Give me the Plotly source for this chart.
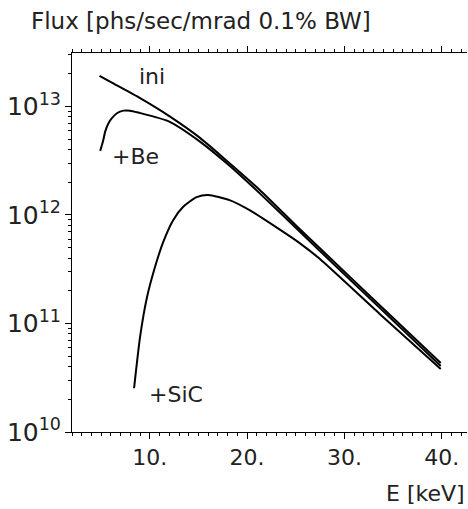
import plotly.graph_objects as go

# Energy [keV] and flux [phs/sec/mrad 0.1% BW]
E_ini = [4.83, 6.0, 9.0, 12.0, 15.15, 17.9, 21.3, 25.4, 27.4, 33.6, 39.9]
F_ini = [1.91e13, 1.67e13, 1.19e13, 8.13e12, 5.13e12, 3.16e12, 1.70e12, 7.41e11, 5.01e11, 1.48e11, 4.33e10]

E_be = [4.9, 5.18, 5.41, 5.75, 6.1, 6.61, 7.29, 7.97, 8.82, 12.0, 15.15, 17.9, 21.3, 27.4, 33.6, 39.9]
F_be = [3.89e12, 4.74e12, 5.86e12, 7.0e12, 7.78e12, 8.65e12, 9.14e12, 9.14e12, 8.77e12,
        7.24e12, 4.74e12, 2.99e12, 1.58e12, 4.73e11, 1.40e11, 4.06e10]

E_sic = [8.38, 9.0, 9.68, 10.53, 11.39, 12.41, 13.43, 14.81, 16.0, 18.2, 20.3, 25.4, 27.4, 33.6, 39.9]
F_sic = [2.53e10, 7.55e10, 1.70e11, 3.31e11, 5.68e11, 9.0e11, 1.19e12, 1.46e12, 1.53e12, 1.37e12,
         1.10e12, 5.5e11, 3.98e11, 1.23e11, 3.8e10]

X_RANGE = [2, 42.6]
Y_RANGE = [10, 13.492]

FONT = "DejaVu Sans, sans-serif"
AX = "black"
TXT = "#222222"

fig = go.Figure()
for xs, ys in [(E_ini, F_ini), (E_be, F_be), (E_sic, F_sic)]:
    fig.add_trace(go.Scatter(x=xs, y=ys, mode="lines",
                             line=dict(color="black", width=2, shape="spline", smoothing=0.6),
                             showlegend=False, hoverinfo="skip"))

fig.update_layout(
    width=468, height=509,
    margin=dict(l=72, r=1, t=53, b=77, autoexpand=False),
    plot_bgcolor="white",
    showlegend=False,
)
fig.update_xaxes(
    automargin=False,
    range=X_RANGE, ticks="outside", ticklen=6, tickwidth=1, tickcolor=AX,
    showline=True, linecolor=AX, mirror="ticks", showgrid=False, zeroline=False,
    tickmode="linear", tick0=0, dtick=10, ticksuffix=".",
    tickfont=dict(family=FONT, size=22, color=TXT),
    minor=dict(ticks="outside", ticklen=3, tickwidth=1, tickcolor=AX, dtick=1),
)
fig.update_yaxes(
    automargin=False,
    type="log", range=Y_RANGE, ticks="outside", ticklen=6, tickwidth=1, tickcolor=AX,
    showline=True, linecolor=AX, showgrid=False, zeroline=False,
    dtick=1, exponentformat="power",
    tickfont=dict(family=FONT, size=20, color=TXT),
    minor=dict(ticks="outside", ticklen=3, tickwidth=1, tickcolor=AX, dtick="D1"),
)

fig.add_annotation(x=10.23, y=13.274, xref="x", yref="y", text="ini", showarrow=False,
                   font=dict(size=22, family=FONT, color=TXT))
fig.add_annotation(x=8.49, y=12.536, xref="x", yref="y", text="+Be", showarrow=False,
                   font=dict(size=22, family=FONT, color=TXT))
fig.add_annotation(x=12.68, y=10.35, xref="x", yref="y", text="+SiC", showarrow=False,
                   font=dict(size=22, family=FONT, color=TXT))
fig.add_annotation(x=-0.11, y=1.084, xref="paper", yref="paper", xanchor="left", yanchor="middle",
                   text="Flux [phs/sec/mrad 0.1% BW]", showarrow=False,
                   font=dict(size=23, family=FONT, color=TXT))
fig.add_annotation(x=1.0, y=-0.161, xref="paper", yref="paper", xanchor="right", yanchor="middle",
                   text="E [keV]", showarrow=False,
                   font=dict(size=22, family=FONT, color=TXT))

fig.write_html("out.html")
